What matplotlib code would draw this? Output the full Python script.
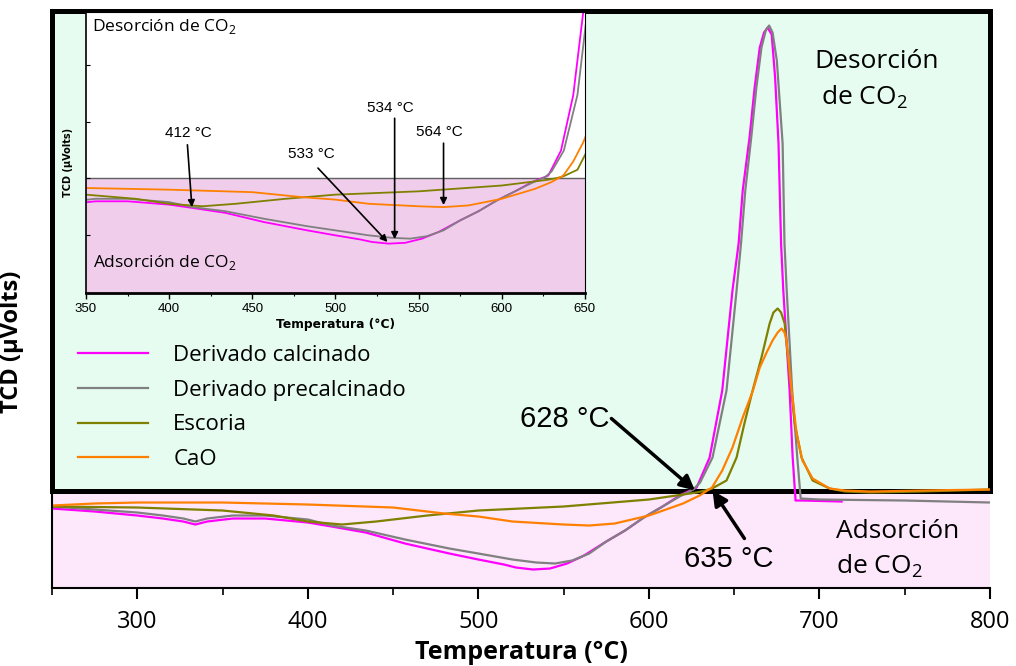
import matplotlib
matplotlib.use('Agg')
import matplotlib.pyplot as plt
from matplotlib.patches import Rectangle
from matplotlib.ticker import MultipleLocator, NullFormatter

plt.rcParams['mathtext.fontset'] = 'custom'
plt.rcParams['mathtext.rm'] = 'Open Sans'
plt.rcParams['mathtext.bf'] = 'Open Sans:bold'

# data (TCD signal, arbitrary units; 0 = baseline between adsorption / desorption)
t_calc = [250, 275, 300, 315, 327, 334, 341, 356, 375, 400, 414, 434, 457, 483, 500, 515, 522, 532,
          542, 552, 562, 575, 586, 597, 608, 618, 628, 635.6, 643, 649, 652.6, 655, 659, 662, 665,
          667.5, 669.6, 672, 674, 676, 677.5, 678.8, 682.5, 684.3, 686, 690, 713]
v_calc = [-18, -21, -25, -28, -31, -34, -31, -28, -28, -32, -36, -42, -53, -63, -69, -74, -77, -79,
          -78, -73, -65, -51, -40, -27, -16, -5, 3, 33, 100, 200, 247, 300, 353, 403, 443,
          458, 463, 456, 413, 347, 247, 200, 100, 33, -10, -10, -11]

t_prec = [250, 275, 300, 315, 327, 334, 341, 356, 375, 400, 414, 434, 457, 483, 500, 520, 534, 545,
          555, 565, 575, 586, 597, 608, 618, 626, 630, 637.3, 645.5, 651.4, 654, 656.5, 660, 663,
          666, 668.5, 670.5, 672.5, 675, 678.4, 679.5, 680.8, 684, 687, 689, 700, 750, 800]
v_prec = [-16, -19, -22, -25, -28, -31, -28, -25, -25, -29, -35, -40, -49, -58, -63, -69, -72, -73,
          -70, -63, -51, -40, -27, -16, -6, 1, 8, 33, 100, 200, 247, 300, 353, 403,
          443, 460, 465, 458, 430, 347, 247, 200, 100, 33, -8, -9, -10, -12]

t_esc = [250, 300, 350, 380, 400, 420, 440, 470, 500, 550, 600, 620, 628, 633, 637, 645.5, 651.4,
         656, 660.8, 666, 670.8, 673, 675.5, 677.5, 679.6, 682.5, 685.5, 689.5, 696, 706, 715,
         730, 760, 800]
v_esc = [-16, -17, -20, -25, -31, -34, -31, -25, -20, -16, -9, -4, -2, 0, 2, 10, 33,
         67, 100, 133, 167, 178, 182, 178, 167, 117, 67, 33, 10, 2, -1,
         -2, -1, 1]

t_cao = [250, 275, 300, 350, 400, 450, 480, 500, 520, 550, 565, 580, 600, 620, 629.7, 637, 643,
         649, 655, 661, 665, 669, 672.5, 675.5, 677.8, 679.5, 680.7, 683.7, 686.6, 690, 696, 706,
         715, 730, 760, 800]
v_cao = [-15, -13, -12, -12, -14, -17, -23, -26, -31, -34, -35, -33, -25, -13, -5, 3, 20,
         43, 73, 100, 123, 138, 150, 158, 162, 158, 150, 100, 57, 30, 12, 2,
         0, -1, 0, 1]

series = [
    ('Derivado calcinado', t_calc, v_calc, '#FF00FF'),
    ('Derivado precalcinado', t_prec, v_prec, '#808080'),
    ('Escoria', t_esc, v_esc, '#808000'),
    ('CaO', t_cao, v_cao, '#FF8000'),
]

fig = plt.figure(figsize=(10.16, 6.66), dpi=100)
ax = fig.add_axes([0.0512, 0.1171, 0.9232, 0.8671])
ax.set_xlim(250, 800)
ax.set_ylim(-97.5, 480)

# backgrounds: desorption box (green, thick frame) and adsorption band (pink)
ax.add_patch(Rectangle((250, -97.5), 550, 97.5, fc='#FDE7FB', lw=0, zorder=0.3))
ax.add_patch(Rectangle((250, 0), 550, 480, fc='#E6FCF0', ec='black', lw=3.6,
                       clip_on=False, zorder=0.5))

for name, t, v, c in series:
    ax.plot(t, v, color=c, lw=1.6, label=name, zorder=2)

for s in ['top', 'right']:
    ax.spines[s].set_visible(False)
ax.spines['left'].set_linewidth(1.5)
ax.spines['bottom'].set_linewidth(1.5)
ax.set_yticks([])
ax.xaxis.set_major_locator(MultipleLocator(100))
ax.xaxis.set_minor_locator(MultipleLocator(50))
ax.tick_params(axis='x', which='major', length=8, width=1.5, labelsize=17, pad=8)
ax.tick_params(axis='x', which='minor', length=5, width=1.2)
for lab in ax.get_xticklabels():
    lab.set_family('Open Sans')
ax.set_xlabel('Temperatura (°C)', fontsize=18, fontweight='bold', family='Open Sans', labelpad=4)
ax.set_ylabel('TCD (µVolts)', fontsize=17, fontweight='bold', family='Open Sans')
ax.yaxis.set_label_coords(-0.030, 0.427)

# region labels
ax.text(697, 423, 'Desorción', fontsize=19, family='Open Sans', va='baseline')
ax.text(701, 386, 'de CO$_2$', fontsize=19, family='Open Sans', va='baseline')
ax.text(709.5, -47, 'Adsorción', fontsize=19, family='Open Sans', va='baseline')
ax.text(709.5, -83, 'de CO$_2$', fontsize=19, family='Open Sans', va='baseline')

# crossing temperatures
arr = dict(arrowstyle='-|>', lw=2.5, color='black', mutation_scale=22, shrinkA=0, shrinkB=0)
ax.annotate('', xy=(627, 0), xytext=(578, 72), arrowprops=arr, zorder=3)
ax.text(577, 72, '628 °C', fontsize=21, family='Liberation Sans', ha='right', va='center')
ax.annotate('', xy=(637.3, 0), xytext=(656, -48), arrowprops=arr, zorder=3)
ax.text(647, -68, '635 °C', fontsize=21, family='Liberation Sans', ha='center', va='center')

leg = ax.legend(loc='center left', bbox_to_anchor=(0.0768, 0.388), bbox_transform=fig.transFigure,
                frameon=False, handlelength=3.15, handletextpad=1.13, labelspacing=0.61,
                borderpad=0, borderaxespad=0, prop={'family': 'Open Sans', 'size': 16})

# inset: zoom 350-650 °C
ins = fig.add_axes([0.0846, 0.560, 0.4911, 0.422])
ins.set_xlim(350, 650)
ins.set_ylim(-138.5, 200)
ins.set_facecolor('white')
ins.axhspan(-138.5, 0, color='#F0CDEB', lw=0, zorder=0.3)
ins.axhline(0, color='#606060', lw=1, zorder=0.4)
for name, t, v, c in series:
    ins.plot(t, v, color=c, lw=1.3, zorder=2)
ins.spines['left'].set_linewidth(1.2)
ins.spines['bottom'].set_linewidth(2)
ins.spines['right'].set_linewidth(0.8)
ins.spines['top'].set_linewidth(0.8)
ins.xaxis.set_major_locator(MultipleLocator(50))
ins.xaxis.set_minor_locator(MultipleLocator(25))
ins.tick_params(axis='x', which='major', length=4, width=1, labelsize=9.5, pad=3)
ins.tick_params(axis='x', which='minor', length=2.5, width=0.8)
for lab in ins.get_xticklabels():
    lab.set_family('Liberation Sans')
ins.set_yticks([-68, 0, 68, 136])
ins.yaxis.set_major_formatter(NullFormatter())
ins.tick_params(axis='y', direction='in', length=3, width=0.8)
ins.set_xlabel('Temperatura (°C)', fontsize=8.8, fontweight='bold', labelpad=2)
ins.set_ylabel('TCD (µVolts)', fontsize=7, fontweight='bold')
ins.yaxis.set_label_coords(-0.026, 0.466)
ins.text(0.012, 0.947, 'Desorción de CO$_2$', transform=ins.transAxes, fontsize=12.5,
         family='Open Sans', va='center')
ins.text(0.014, 0.107, 'Adsorción de CO$_2$', transform=ins.transAxes, fontsize=12.5,
         family='Open Sans', va='center')

iarr = dict(arrowstyle='-|>', lw=1.2, color='black', mutation_scale=10, shrinkA=0, shrinkB=0)
ins_notes = [
    ('412 °C', (411.6, 54), (411, 40), (413.7, -35)),
    ('533 °C', (485.3, 29), (489.5, 12), (531.3, -77)),
    ('534 °C', (532.8, 84), (535.6, 72), (535.6, -73.5)),
    ('564 °C', (562.3, 55), (565, 42), (565, -32.5)),
]
for txt, tpos, a0, a1 in ins_notes:
    ins.annotate('', xy=a1, xytext=a0, arrowprops=iarr, zorder=3)
    ins.text(tpos[0], tpos[1], txt, fontsize=11, family='Liberation Sans', ha='center', va='center')

fig.savefig('out.png', dpi=100)
